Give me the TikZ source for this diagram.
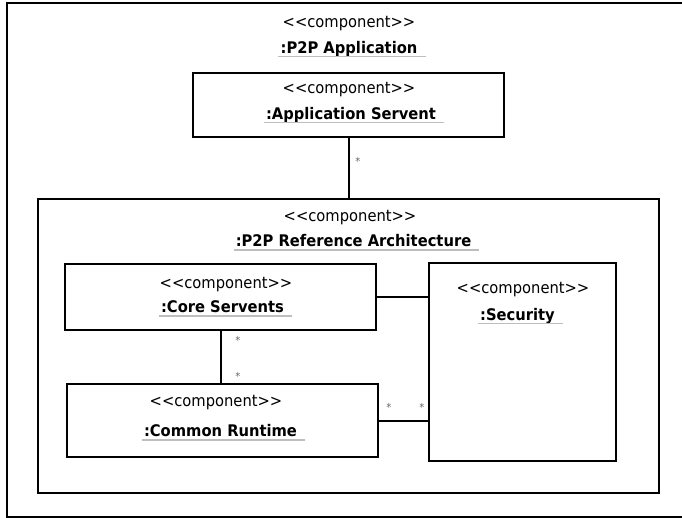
\documentclass[tikz,border=0pt]{standalone}
\usepackage{fontspec}
\setmainfont{DejaVu Sans}[FakeStretch=0.92]
\usetikzlibrary{positioning}
\definecolor{uline}{RGB}{190,190,190}
\definecolor{starcol}{RGB}{105,105,105}
\tikzset{
  comp/.style={draw, line width=2pt, inner sep=0pt},
  stereo/.style={inner sep=0pt, font=\fontsize{16}{18}\selectfont},
  cname/.style={inner sep=0pt, font=\fontsize{16}{18}\selectfont\bfseries},
  mult/.style={inner sep=0pt, text=starcol, font=\fontsize{11}{11}\selectfont},
  underl/.style={draw=uline, line width=1.6pt},
  link/.style={line width=2pt}
}
\newcommand{\stereotag}{{<}{<}component{>}{>}}

\begin{document}
\begin{tikzpicture}[x=1pt,y=-1pt]
    \useasboundingbox (0,0) rectangle (682,518);
    \begin{scope}
    \clip (0,0) rectangle (682,518);
    \draw[line width=2pt] (7,3) rectangle (700,517);
    \end{scope}
    \node[stereo](topst) at (349,24) {\stereotag};
    \node[cname](topnm) at (349,49) {:P2P Application};
%   application servent
    \node[comp,minimum width=311pt,minimum height=64pt](app) at (348.5,105) {};
    \node[stereo](appst) at (349,90) {\stereotag};
    \node[cname](appnm) at (351,115) {:Application Servent};
%   reference architecture
    \node[comp,minimum width=621pt,minimum height=294pt](arch) at (348.5,346) {};
    \node[stereo](archst) at (350,218) {\stereotag};
    \node[cname](archnm) at (353.5,241) {:P2P Reference Architecture};
    \begin{scope}
        \node[comp,minimum width=311pt,minimum height=66pt](core) at (220.5,297) {};
        \node[stereo](corest) at (226,285) {\stereotag};
        \node[cname](corenm) at (222.5,307) {:Core Servents};
        \node[comp,minimum width=187pt,minimum height=198pt](sec) at (522.5,362) {};
        \node[stereo](secst) at (523,290) {\stereotag};
        \node[cname](secnm) at (517.5,316) {:Security};
        \node[comp,minimum width=311pt,minimum height=73pt](common) at (222.5,420.5) {};
        \node[stereo](commonst) at (216,403) {\stereotag};
        \node[cname](commonnm) at (220.5,431) {:Common Runtime};
    \end{scope}
    \foreach \n in {topnm,appnm,archnm,corenm,secnm,commonnm}
        \draw[underl] ([xshift=-2pt,yshift=-3pt]\n.base west) -- ([xshift=8pt,yshift=-3pt]\n.base east);
    \draw[link] (app.south) -- (arch.north);
    \draw[link] (core.east) -- (core.east -| sec.west);
    \draw[link] (core.south) -- (core.south |- common.north);
    \draw[link] (common.east) -- (common.east -| sec.west);
    \node[mult](m1) at (358,161) {*};
    \node[mult](m2) at (238,340) {*};
    \node[mult](m3) at (238,376) {*};
    \node[mult](m4) at (389,407) {*};
    \node[mult](m5) at (422,407) {*};
\end{tikzpicture}
\end{document}
